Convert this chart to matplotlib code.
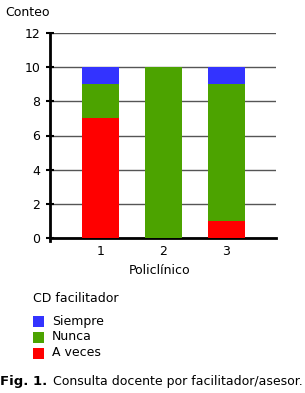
import matplotlib
matplotlib.use("Agg")
import matplotlib.pyplot as plt
from matplotlib.patches import Rectangle
import numpy as np

categories = ["1", "2", "3"]
a_veces = [7, 0, 1]
nunca = [2, 10, 8]
siempre = [1, 0, 1]
series_names = ["Siempre", "Nunca", "A veces"]
colors = {"Siempre": "#3333FF", "Nunca": "#4CA300", "A veces": "#FF0000"}
yticks = [0, 2, 4, 6, 8, 10, 12]

FS = 9
W, H = 305, 393
fig = plt.figure(figsize=(W / 100, H / 100), dpi=100)
ax = fig.add_axes([50 / W, 1 - 238 / H, 226 / W, 205 / H])

x = np.arange(1, len(categories) + 1)
width = 0.59
ax.bar(x, a_veces, width, color=colors["A veces"], zorder=3)
ax.bar(x, nunca, width, bottom=a_veces, color=colors["Nunca"], zorder=3)
bottom2 = np.array(a_veces) + np.array(nunca)
ax.bar(x, siempre, width, bottom=bottom2, color=colors["Siempre"], zorder=3)

ax.set_xlim(0.2, 3.79)
ax.set_ylim(0, 12)
ax.set_yticks(yticks)
ax.set_xticks(x)
ax.set_xticklabels(categories)
ax.yaxis.grid(True, color="#555555", linewidth=1, zorder=0)
for s in ["top", "right"]:
    ax.spines[s].set_visible(False)
ax.spines["left"].set_linewidth(2)
ax.spines["bottom"].set_linewidth(2)
ax.spines["left"].set_bounds(-0.2, 12)
ax.tick_params(axis="y", direction="inout", length=6, width=1.5, labelsize=FS, pad=4)
ax.tick_params(axis="x", length=0, labelsize=FS, pad=5)

fig.text(5 / W, 1 - 12 / H, "Conteo", fontsize=FS, va="center", ha="left")
fig.text(160 / W, 1 - 271 / H, "Policlínico", fontsize=FS, va="center", ha="center")

# legend
fig.text(33 / W, 1 - 299 / H, "CD facilitador", fontsize=FS, va="center", ha="left")
for i, name in enumerate(series_names):
    yc = 321 + 16 * i
    fig.patches.append(Rectangle((33 / W, 1 - (yc + 5.5) / H), 11 / W, 11 / H,
                                 transform=fig.transFigure, facecolor=colors[name],
                                 edgecolor="none"))
    fig.text(52 / W, 1 - yc / H, name, fontsize=FS, va="center", ha="left")

fig.text(0 / W, 1 - 381 / H, "Fig. 1.", fontsize=9.5, fontweight="bold", va="center", ha="left")
fig.text(53 / W, 1 - 381 / H, "Consulta docente por facilitador/asesor.", fontsize=FS,
         va="center", ha="left")

fig.savefig("out.png", dpi=100)
